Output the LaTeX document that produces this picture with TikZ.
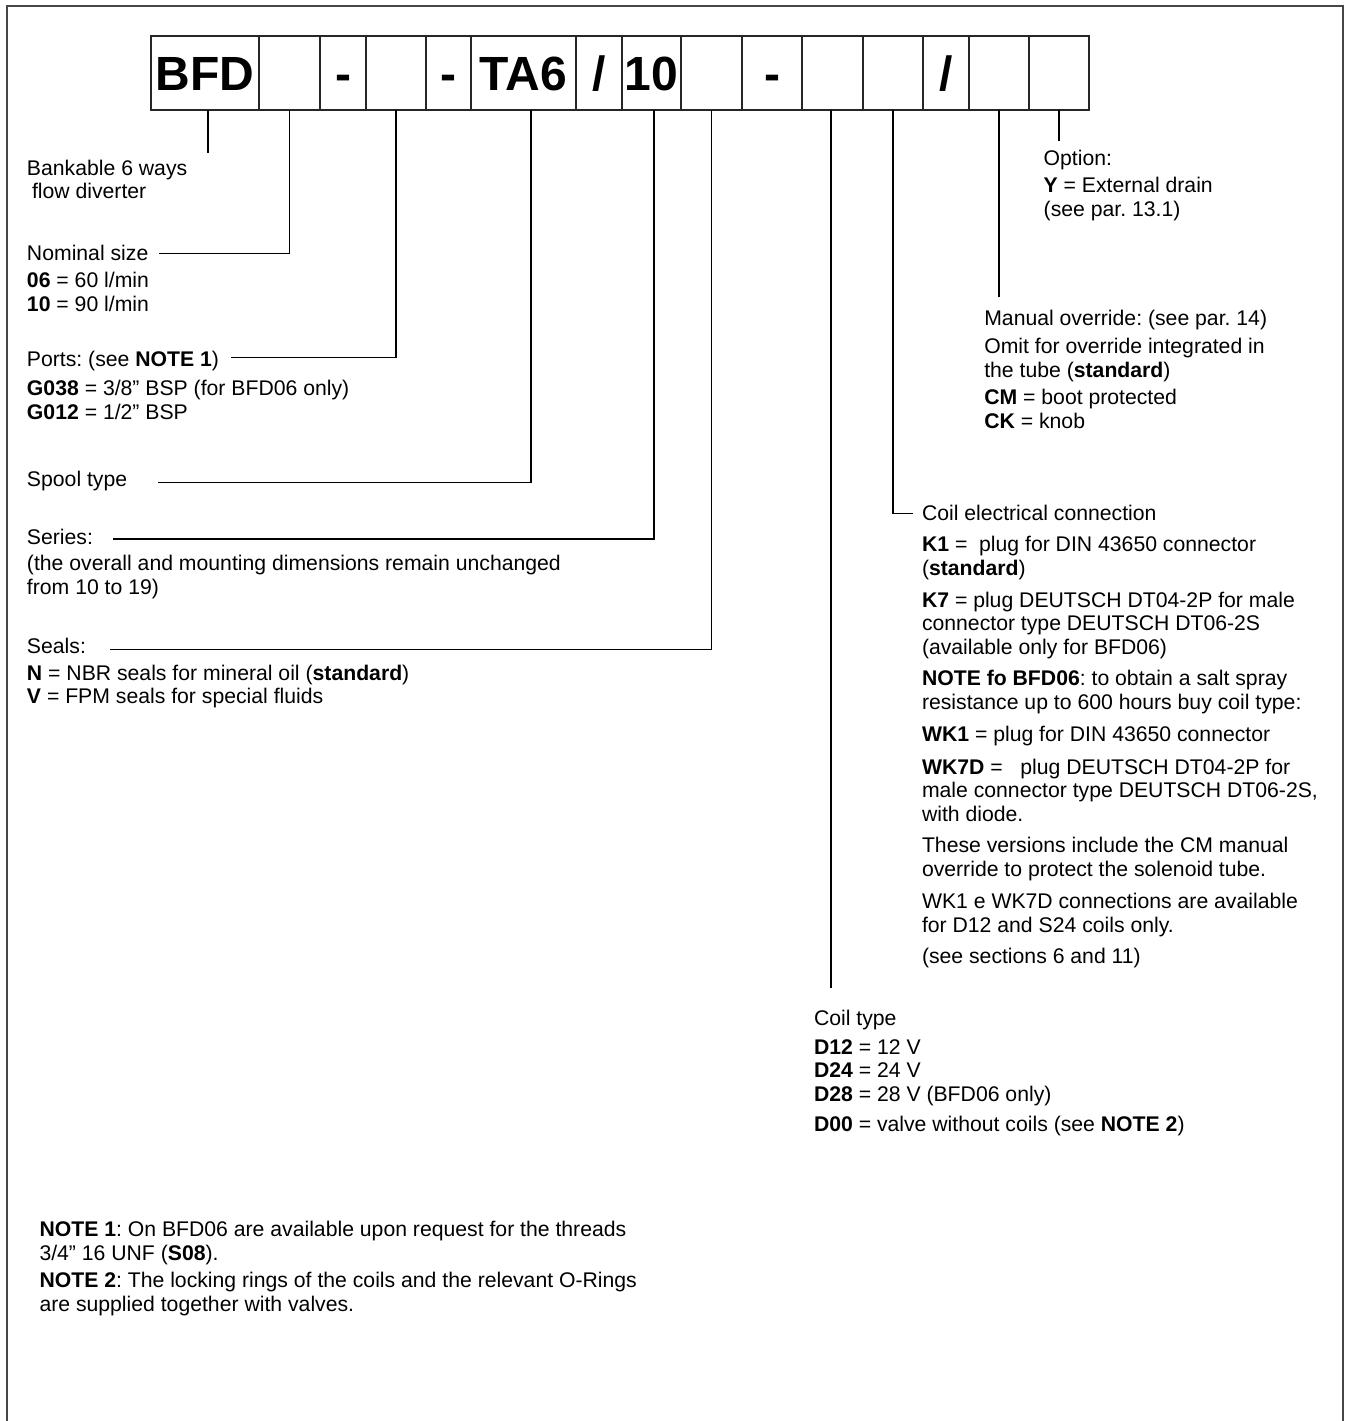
\documentclass[tikz,border=0pt]{standalone}
\usepackage{fontspec}
\setmainfont{Liberation Sans}
\begin{document}
\frenchspacing
\begin{tikzpicture}[x=1pt,y=-1pt,
  txt/.style={anchor=base west, inner sep=0pt, outer sep=0pt, font=\fontsize{21.2}{24}\selectfont\frenchspacing},
  cell/.style={draw=black!85, line width=1.5pt, minimum height=74pt, inner sep=0pt, outer sep=0pt, text height=34pt, text depth=0pt, font=\fontsize{48}{50}\selectfont\bfseries},
  lead/.style={draw=black, line width=1.3pt},
  frame/.style={draw=black!72, line width=2pt}]
\useasboundingbox (0,0) rectangle (1344,1421);
\draw[frame] (7,1425) -- (7,6) -- (1343,6) -- (1343,1425);

% code cells
\node[cell, minimum width=108pt] (c1)  at (205,73)   {BFD};
\node[cell, minimum width=61pt]  (c2)  at (289.5,73) {};
\node[cell, minimum width=46pt]  (c3)  at (343,73)   {-};
\node[cell, minimum width=60pt]  (c4)  at (396,73)   {};
\node[cell, minimum width=45pt]  (c5)  at (448.5,73) {-};
\node[cell, minimum width=105pt] (c6)  at (523.5,73) {TA6};
\node[cell, minimum width=46pt]  (c7)  at (599,73)   {/};
\node[cell, minimum width=59pt]  (c8)  at (651.5,73) {10};
\node[cell, minimum width=61pt]  (c9)  at (711.5,73) {};
\node[cell, minimum width=60pt]  (c10) at (772,73)   {-};
\node[cell, minimum width=61pt]  (c11) at (832.5,73) {};
\node[cell, minimum width=60pt]  (c12) at (893,73)   {};
\node[cell, minimum width=46pt]  (c13) at (946,73)   {/};
\node[cell, minimum width=60pt]  (c14) at (999,73)   {};
\node[cell, minimum width=60pt]  (c15) at (1059,73)  {};

% left column texts
\node[txt] (t1a) at (27,175)   {Bankable 6 ways};
\node[txt] (t1b) at (32,198.3) {flow diverter};
\node[txt] (t2)  at (27,260)   {Nominal size};
\node[txt] (t2a) at (27,287.7) {\textbf{06} = 60 l/min};
\node[txt] (t2b) at (27,311.7) {\textbf{10} = 90 l/min};
\node[txt] (t4)  at (27,366.5) {Ports: (see \textbf{NOTE 1})};
\node[txt] (t4a) at (27,395.7) {\textbf{G038} = 3/8” BSP (for BFD06 only)};
\node[txt] (t4b) at (27,419.3) {\textbf{G012} = 1/2” BSP};
\node[txt] (t6)  at (27,486.5) {Spool type};
\node[txt] (t8)  at (27,544)   {Series:};
\node[txt] (t8a) at (27,570)   {(the overall and mounting dimensions remain unchanged};
\node[txt] (t8b) at (27,594)   {from 10 to 19)};
\node[txt] (t9)  at (27,653)   {Seals:};
\node[txt] (t9a) at (27,680)   {\textbf{N} = NBR seals for mineral oil (\textbf{standard})};
\node[txt] (t9b) at (27,703)   {\textbf{V} = FPM seals for special fluids};

% option
\node[txt] (t15)  at (1043.7,165.7) {Option:};
\node[txt] (t15a) at (1043.7,192.7) {\textbf{Y} = External drain};
\node[txt] (t15b) at (1043.7,216)   {(see par. 13.1)};

% manual override
\node[txt] (t14)  at (984.3,325)   {Manual override: (see par. 14)};
\node[txt] (t14a) at (984.3,353)   {Omit for override integrated in};
\node[txt] (t14b) at (984.3,377.7) {the tube (\textbf{standard})};
\node[txt] (t14c) at (984.3,404.3) {\textbf{CM} = boot protected};
\node[txt] (t14d) at (984.3,428.3) {\textbf{CK} = knob};

% coil electrical connection
\node[txt] (t12)  at (922,520)   {Coil electrical connection};
\node[txt] (t12a) at (922,551)   {\textbf{K1} = \ plug for DIN 43650 connector};
\node[txt] (t12b) at (922,575)   {(\textbf{standard})};
\node[txt] (t12c) at (922,607.3) {\textbf{K7} = plug DEUTSCH DT04-2P for male};
\node[txt] (t12d) at (922,630.7) {connector type DEUTSCH DT06-2S};
\node[txt] (t12e) at (922,654.3) {(available only for BFD06)};
\node[txt] (t12f) at (922,685)   {\textbf{NOTE fo BFD06}: to obtain a salt spray};
\node[txt] (t12g) at (922,709.3) {resistance up to 600 hours buy coil type:};
\node[txt] (t12h) at (922,741.7) {\textbf{WK1} = plug for DIN 43650 connector};
\node[txt] (t12i) at (922,774)   {\textbf{WK7D} = \ \ plug DEUTSCH DT04-2P for};
\node[txt] (t12j) at (922,797.3) {male connector type DEUTSCH DT06-2S,};
\node[txt] (t12k) at (922,821)   {with diode.};
\node[txt] (t12l) at (922,852.7) {These versions include the CM manual};
\node[txt] (t12m) at (922,876.7) {override to protect the solenoid tube.};
\node[txt] (t12n) at (922,908.3) {WK1 e WK7D connections are available};
\node[txt] (t12o) at (922,932.3) {for D12 and S24 coils only.};
\node[txt] (t12p) at (922,963.3) {(see sections 6 and 11)};

% coil type
\node[txt] (t11)  at (814,1025)   {Coil type};
\node[txt] (t11a) at (814,1054)   {\textbf{D12} = 12 V};
\node[txt] (t11b) at (814,1077.7) {\textbf{D24} = 24 V};
\node[txt] (t11c) at (814,1101.7) {\textbf{D28} = 28 V (BFD06 only)};
\node[txt] (t11d) at (814,1131.7) {\textbf{D00} = valve without coils (see \textbf{NOTE 2})};

% notes
\node[txt] (n1a) at (39.5,1236)   {\textbf{NOTE 1}: On BFD06 are available upon request for the threads};
\node[txt] (n1b) at (39.5,1260)   {3/4” 16 UNF (\textbf{S08}).};
\node[txt] (n2a) at (39.5,1287.7) {\textbf{NOTE 2}: The locking rings of the coils and the relevant O-Rings};
\node[txt] (n2b) at (39.5,1311.7) {are supplied together with valves.};

% leader lines
\coordinate (e1)  at (208,153);
\coordinate (k2)  at (159,253.3);
\coordinate (k4)  at (231,357.7);
\coordinate (k6)  at (158,482.3);
\coordinate (k8)  at (112.5,539);
\coordinate (k9)  at (110,649.3);
\coordinate (e11) at (831,988.3);
\coordinate (k12) at (913,513.3);
\coordinate (e14) at (999,296.7);
\coordinate (e15) at (1059,141);

\draw[lead] (c1.south -| e1) -- (e1);
\draw[lead] (c2.south) |- (k2);
\draw[lead] (c4.south) |- (k4);
\draw[lead] ([xshift=7.5pt]c6.south) |- (k6);
\draw[lead] ([xshift=2.5pt]c8.south) |- (k8);
\draw[lead] (c9.south) |- (k9);
\draw[lead] (c11.south -| e11) -- (e11);
\draw[lead] (c12.south) |- (k12);
\draw[lead] (c14.south) -- (e14);
\draw[lead] (c15.south) -- (e15);
\end{tikzpicture}
\end{document}
